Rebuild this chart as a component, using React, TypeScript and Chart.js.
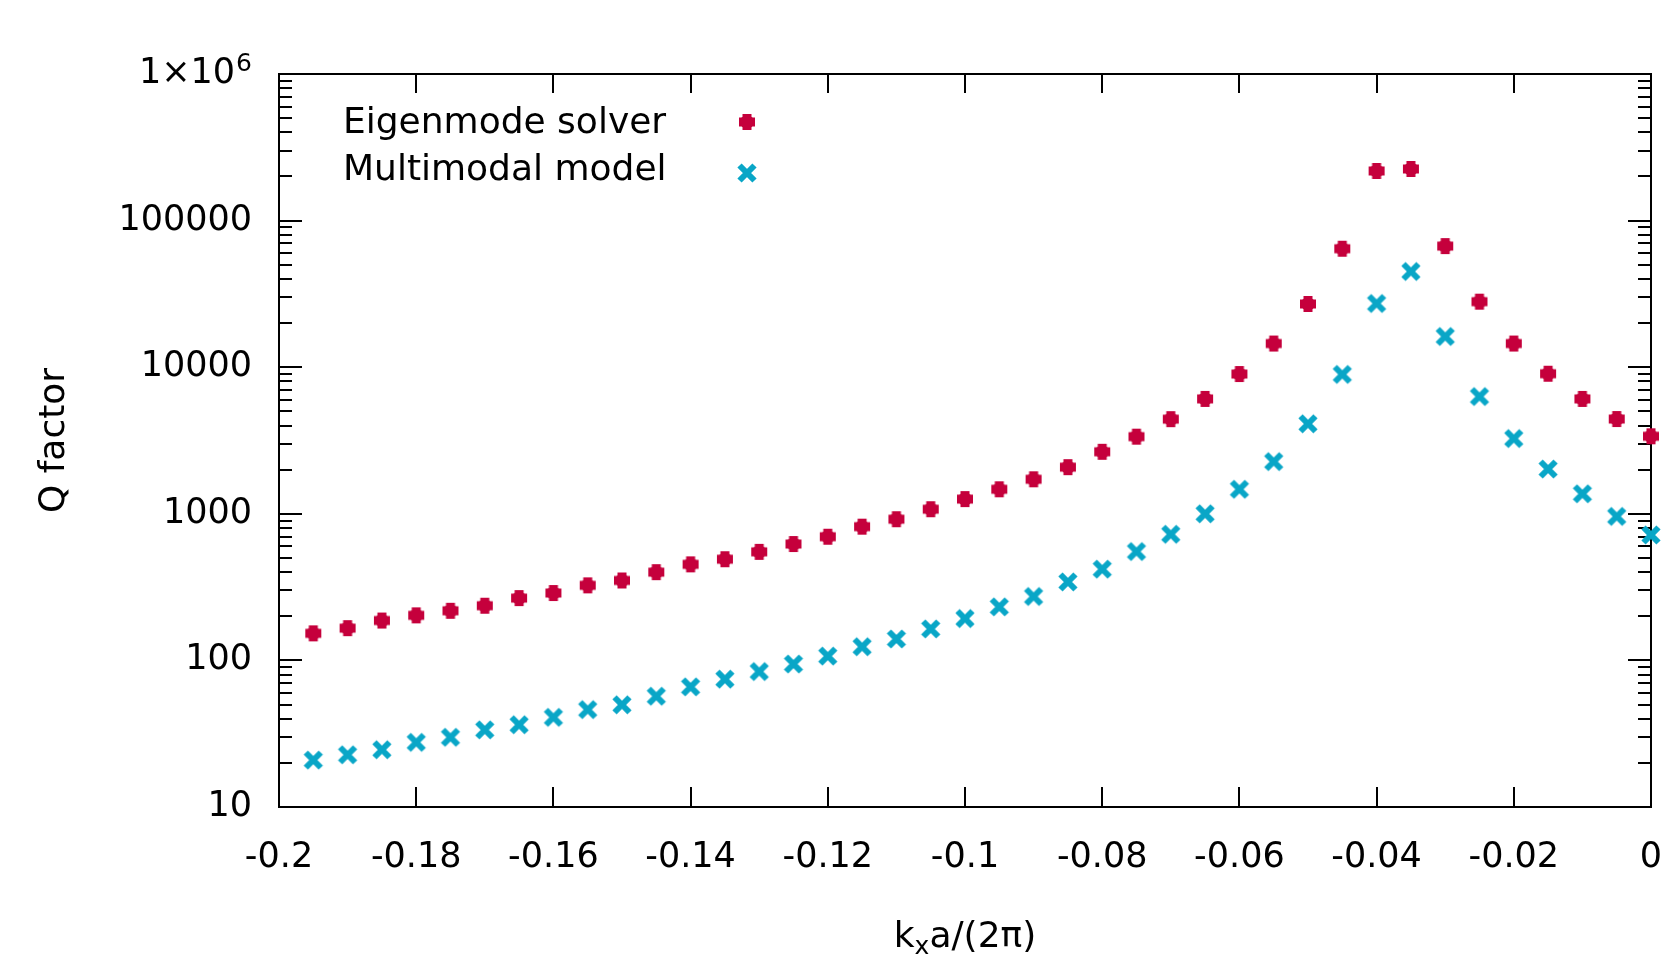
import React, { useEffect, useRef } from 'react';
import { Chart, registerables } from 'chart.js';

Chart.register(...registerables);

const kx = [
  -0.195, -0.19, -0.185, -0.18, -0.175, -0.17, -0.165, -0.16, -0.155, -0.15,
  -0.145, -0.14, -0.135, -0.13, -0.125, -0.12, -0.115, -0.11, -0.105, -0.1,
  -0.095, -0.09, -0.085, -0.08, -0.075, -0.07, -0.065, -0.06, -0.055, -0.05,
  -0.045, -0.04, -0.035, -0.03, -0.025, -0.02, -0.015, -0.01, -0.005, 0,
];

const eigenQ = [
  153, 166, 187, 203, 218, 236, 266, 288, 325, 351,
  400, 452, 490, 550, 622, 698, 817, 918, 1075, 1260,
  1470, 1720, 2080, 2650, 3360, 4420, 6080, 8980, 14500, 27000,
  64300, 218000, 225000, 67000, 28000, 14500, 9030, 6080, 4430, 3380,
];

const multiQ = [
  20.9, 22.7, 24.6, 27.6, 29.9, 33.6, 36.4, 40.9, 46.2, 49.8,
  57, 66, 74.5, 84, 94.5, 107, 124, 140, 164, 193,
  232, 273, 343, 419, 553, 725, 1000, 1470, 2270, 4110,
  8930, 27200, 45000, 16200, 6310, 3260, 2020, 1370, 960, 718,
];

const xTickValues = [-0.2, -0.18, -0.16, -0.14, -0.12, -0.1, -0.08, -0.06, -0.04, -0.02, 0];
const xTickLabels = ['-0.2', '-0.18', '-0.16', '-0.14', '-0.12', '-0.1', '-0.08', '-0.06', '-0.04', '-0.02', '0'];
const yTickValues = [10, 100, 1000, 10000, 100000, 1000000];
const yTickLabels = ['10', '100', '1000', '10000', '100000', ''];
const yTopLabelParts = ['1×10', '6'];
const seriesNames = ['Eigenmode solver', 'Multimodal model'];
const seriesColors = ['#c5003c', '#09a6c7'];
const xTitleParts = ['k', 'x', 'a/(2π)'];
const yTitle = 'Q factor';

const FONT = '"DejaVu Sans", sans-serif';
const Y_LABEL_PAD = 27;

function makePlus(color: string) {
  const c = document.createElement('canvas');
  c.width = 18; c.height = 18;
  const g = c.getContext('2d')!;
  g.fillStyle = color;
  g.fillRect(4.5, 1, 9, 16);
  g.fillRect(1, 4.5, 16, 9);
  g.beginPath(); g.arc(9, 9, 6.8, 0, Math.PI * 2); g.fill();
  return c;
}

function makeCross(color: string) {
  const c = document.createElement('canvas');
  c.width = 22; c.height = 22;
  const g = c.getContext('2d')!;
  g.strokeStyle = color;
  g.lineWidth = 6;
  g.lineCap = 'butt';
  g.beginPath();
  g.moveTo(3.5, 3.5); g.lineTo(18.5, 18.5);
  g.moveTo(18.5, 3.5); g.lineTo(3.5, 18.5);
  g.stroke();
  return c;
}

export default function App() {
  const ref = useRef<HTMLCanvasElement | null>(null);

  useEffect(() => {
    if (!ref.current) return;
    const plus = makePlus(seriesColors[0]);
    const cross = makeCross(seriesColors[1]);
    const markers = [plus, cross];

    const framePlugin = {
      id: 'frame',
      beforeDatasetsDraw(chart: any) {
        const { ctx, chartArea: a, scales } = chart;
        const xs = scales.x, ys = scales.y;
        ctx.save();
        ctx.strokeStyle = '#000';
        ctx.lineWidth = 2;
        ctx.beginPath();
        for (const v of xTickValues) {
          const px = Math.round(xs.getPixelForValue(v));
          ctx.moveTo(px, a.bottom); ctx.lineTo(px, a.bottom - 20);
          ctx.moveTo(px, a.top); ctx.lineTo(px, a.top + 19);
        }
        for (let i = 0; i < yTickValues.length; i++) {
          const d = yTickValues[i];
          const py = Math.round(ys.getPixelForValue(d));
          ctx.moveTo(a.left, py); ctx.lineTo(a.left + 23, py);
          ctx.moveTo(a.right, py); ctx.lineTo(a.right - 23, py);
          if (i < yTickValues.length - 1) {
            for (let m = 2; m <= 9; m++) {
              const pm = Math.round(ys.getPixelForValue(d * m));
              ctx.moveTo(a.left, pm); ctx.lineTo(a.left + 13, pm);
              ctx.moveTo(a.right, pm); ctx.lineTo(a.right - 13, pm);
            }
          }
        }
        ctx.stroke();
        ctx.strokeRect(a.left, a.top, a.right - a.left, a.bottom - a.top);

        // top y label 1×10^6 with real superscript
        const topY = ys.getPixelForValue(yTickValues[yTickValues.length - 1]);
        const right = a.left - Y_LABEL_PAD;
        ctx.fillStyle = '#000';
        ctx.textAlign = 'right';
        ctx.textBaseline = 'middle';
        ctx.font = `25px ${FONT}`;
        const wSup = ctx.measureText(yTopLabelParts[1]).width;
        ctx.fillText(yTopLabelParts[1], right, topY - 10);
        ctx.font = `35px ${FONT}`;
        ctx.fillText(yTopLabelParts[0], right - wSup - 1, topY);
        ctx.restore();
      },
      afterDatasetsDraw(chart: any) {
        const { ctx, chartArea: a } = chart;
        ctx.save();
        ctx.fillStyle = '#000';
        ctx.textAlign = 'left';
        ctx.textBaseline = 'alphabetic';
        ctx.font = `36px ${FONT}`;
        const baselines = [133, 180];
        const markerY = [122, 173];
        for (let i = 0; i < seriesNames.length; i++) {
          ctx.fillText(seriesNames[i], 343, baselines[i]);
          const m = markers[i];
          ctx.drawImage(m, 747 - m.width / 2, markerY[i] - m.height / 2);
        }
        const big = `36px ${FONT}`;
        const small = `25px ${FONT}`;
        ctx.font = big;
        const w0 = ctx.measureText(xTitleParts[0]).width;
        const w2 = ctx.measureText(xTitleParts[2]).width;
        ctx.font = small;
        const w1 = ctx.measureText(xTitleParts[1]).width;
        const total = w0 + w1 + w2;
        const cx = (a.left + a.right) / 2;
        let x = cx - total / 2;
        const base = 947;
        ctx.font = big;
        ctx.fillText(xTitleParts[0], x, base);
        x += w0;
        ctx.font = small;
        ctx.fillText(xTitleParts[1], x, base + 7);
        x += w1;
        ctx.font = big;
        ctx.fillText(xTitleParts[2], x, base);
        ctx.restore();
      },
    };

    const chart = new Chart(ref.current, {
      type: 'scatter',
      data: {
        datasets: [
          {
            label: seriesNames[0],
            data: kx.map((x, i) => ({ x, y: eigenQ[i] })),
            pointStyle: plus as any,
            backgroundColor: seriesColors[0],
            borderColor: seriesColors[0],
            clip: false as any,
          },
          {
            label: seriesNames[1],
            data: kx.map((x, i) => ({ x, y: multiQ[i] })),
            pointStyle: cross as any,
            backgroundColor: seriesColors[1],
            borderColor: seriesColors[1],
            clip: false as any,
          },
        ],
      },
      options: {
        responsive: false,
        animation: false,
        layout: { padding: { left: 0, top: 74, right: 18, bottom: 0 } },
        plugins: { legend: { display: false }, tooltip: { enabled: false } },
        scales: {
          x: {
            type: 'linear',
            min: -0.2,
            max: 0,
            grid: { display: false },
            border: { display: false },
            afterBuildTicks: (s: any) => { s.ticks = xTickValues.map((v) => ({ value: v })); },
            afterFit: (s: any) => { s.height = 148; s.paddingRight = 0; s.paddingLeft = 0; },
            ticks: {
              color: '#000',
              padding: 22,
              maxRotation: 0,
              autoSkip: false,
              font: { family: FONT, size: 35 },
              callback: (v: any) => {
                const i = xTickValues.findIndex((t) => Math.abs(t - v) < 1e-9);
                return i >= 0 ? xTickLabels[i] : '';
              },
            },
            title: { display: false },
          },
          y: {
            type: 'logarithmic',
            min: 10,
            max: 1000000,
            grid: { display: false, drawTicks: false },
            border: { display: false },
            afterBuildTicks: (s: any) => { s.ticks = yTickValues.map((v) => ({ value: v })); },
            afterFit: (s: any) => { s.width = 279; s.paddingTop = 0; s.paddingBottom = 0; },
            ticks: {
              color: '#000',
              padding: Y_LABEL_PAD,
              autoSkip: false,
              font: { family: FONT, size: 35 },
              callback: (v: any) => {
                const i = yTickValues.findIndex((t) => Math.abs(t - v) < 1e-6 * t);
                return i >= 0 ? yTickLabels[i] : '';
              },
            },
            title: {
              display: true,
              text: yTitle,
              color: '#000',
              font: { family: FONT, size: 36 },
              padding: { top: 33, bottom: 0 },
            },
          },
        },
      } as any,
      plugins: [framePlugin],
    });
    return () => chart.destroy();
  }, []);

  return (
    <div style={{ position: 'absolute', left: 0, top: 0, width: 1669, height: 955, background: '#fff' }}>
      <canvas ref={ref} width={1669} height={955} style={{ width: 1669, height: 955, display: 'block' }} />
    </div>
  );
}
